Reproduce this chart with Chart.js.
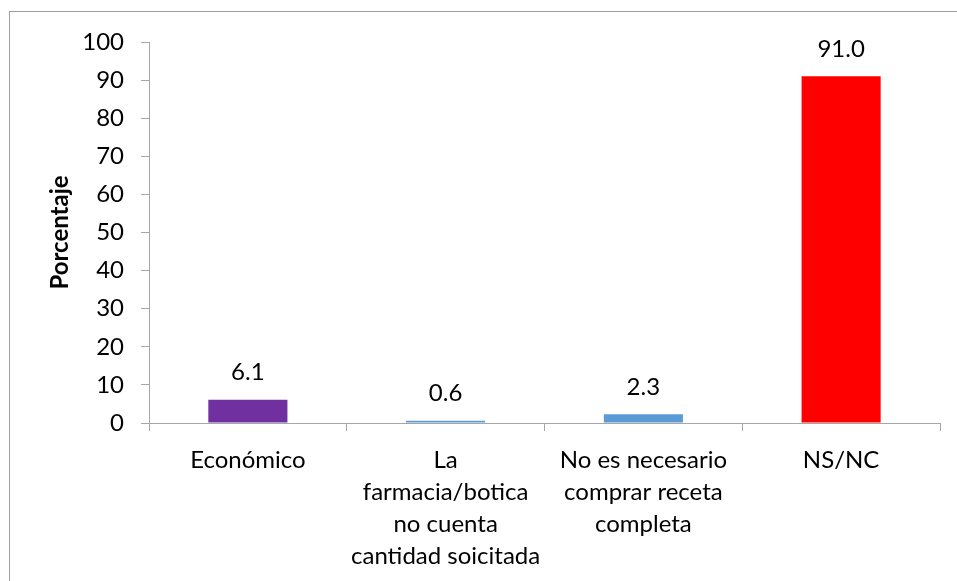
<!DOCTYPE html>
<html>
<head>
<meta charset="utf-8">
<script src="https://cdn.jsdelivr.net/npm/chart.js@4"></script>
<style>
  html, body { margin: 0; padding: 0; background: #fff; }
  #wrap { width: 957px; height: 581px; }
</style>
</head>
<body>
<div id="wrap"><canvas id="c" width="957" height="581"></canvas></div>
<script>
// Motivos por los que no se compró la receta completa (%)
const categories = [
  ['Económico'],
  ['La', 'farmacia/botica', 'no cuenta', 'cantidad soicitada'],
  ['No es necesario', 'comprar receta', 'completa'],
  ['NS/NC']
];
const values = [6.1, 0.6, 2.3, 91.0];
const barColors = ['#7030A0', '#5B9BD5', '#5B9BD5', '#FF0000'];
const yTitle = 'Porcentaje';

const FONT = 'Lato, "Open Sans", sans-serif';
const AXIS_GRAY = '#A6A6A6';

// Outer frame of the chart area
const framePlugin = {
  id: 'frame',
  beforeDraw(chart) {
    const ctx = chart.ctx;
    ctx.save();
    ctx.fillStyle = '#fff';
    ctx.fillRect(0, 0, chart.width, chart.height);
    ctx.strokeStyle = '#A0A0A0';
    ctx.lineWidth = 1;
    ctx.strokeRect(9.5, 11.5, chart.width + 20, chart.height + 20);
    ctx.restore();
  }
};

// Value labels above each bar
const valueLabels = {
  id: 'valueLabels',
  afterDatasetsDraw(chart) {
    const ctx = chart.ctx;
    const meta = chart.getDatasetMeta(0);
    ctx.save();
    ctx.font = '24px ' + FONT;
    ctx.fillStyle = '#000';
    ctx.textAlign = 'center';
    ctx.textBaseline = 'middle';
    meta.data.forEach((bar, i) => {
      ctx.fillText(values[i].toFixed(1), bar.x, bar.y - 27);
    });
    ctx.restore();
  }
};

new Chart(document.getElementById('c'), {
  type: 'bar',
  data: {
    labels: categories,
    datasets: [{
      data: values,
      backgroundColor: barColors,
      borderWidth: 0,
      categoryPercentage: 0.4,
      barPercentage: 1.0
    }]
  },
  options: {
    responsive: false,
    animation: false,
    events: [],
    layout: { padding: { left: 38, right: 17, top: 42, bottom: 0 } },
    plugins: {
      legend: { display: false },
      tooltip: { enabled: false },
      title: { display: false }
    },
    scales: {
      x: {
        afterFit(scale) { scale.height = 581 - 423; },
        grid: {
          offset: true,
          drawOnChartArea: false,
          drawTicks: true,
          tickLength: 8,
          color: AXIS_GRAY
        },
        border: { color: AXIS_GRAY, width: 1 },
        ticks: {
          color: '#000',
          font: { family: FONT, size: 24, lineHeight: 1.333 },
          padding: 13,
          maxRotation: 0,
          autoSkip: false
        }
      },
      y: {
        min: 0,
        max: 100,
        afterFit(scale) { scale.width = 149 - 38; },
        grid: {
          drawOnChartArea: false,
          drawTicks: true,
          tickLength: 8,
          color: AXIS_GRAY
        },
        border: { color: AXIS_GRAY, width: 1 },
        ticks: {
          stepSize: 10,
          color: '#000',
          font: { family: FONT, size: 24 },
          padding: 17
        },
        title: {
          display: true,
          text: yTitle,
          color: '#000',
          font: { family: FONT, size: 24, weight: 'bold', lineHeight: 1.2 },
          padding: { top: 8, bottom: 0 }
        }
      }
    }
  },
  plugins: [framePlugin, valueLabels]
});
</script>
</body>
</html>
